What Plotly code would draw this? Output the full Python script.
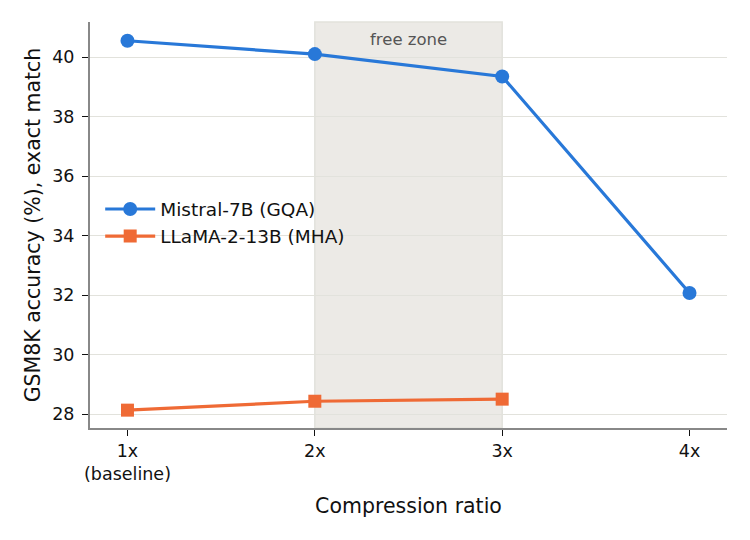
import plotly.graph_objects as go

x_vals = [1, 2, 3, 4]
x_ticklabels = ["1x<br>(baseline)", "2x", "3x", "4x"]
mistral_x = [1, 2, 3, 4]
mistral_y = [40.55, 40.1, 39.35, 32.07]
llama_x = [1, 2, 3]
llama_y = [28.13, 28.43, 28.5]
y_ticks = [28, 30, 32, 34, 36, 38, 40]
zone = [2, 3]

fig = go.Figure()
fig.add_vrect(x0=zone[0], x1=zone[1], fillcolor="#eceae6", opacity=1,
              line=dict(color="#e2e2dc", width=1.5), layer="below")
fig.add_annotation(x=(zone[0] + zone[1]) / 2, y=1, yref="paper", yshift=-6,
                   text="free zone", showarrow=False, yanchor="top",
                   font=dict(size=16.5, color="#555555"))

fig.add_trace(go.Scatter(x=mistral_x, y=mistral_y, mode="lines+markers",
                         name="Mistral-7B (GQA)",
                         line=dict(color="#2878d8", width=3.2),
                         marker=dict(symbol="circle", size=14, color="#2878d8")))
fig.add_trace(go.Scatter(x=llama_x, y=llama_y, mode="lines+markers",
                         name="LLaMA-2-13B (MHA)",
                         line=dict(color="#ef6a35", width=3.2),
                         marker=dict(symbol="square", size=13, color="#ef6a35")))

fig.update_layout(
    width=750, height=540,
    margin=dict(l=82, r=31, t=14, b=120),
    plot_bgcolor="white", paper_bgcolor="white",
    font=dict(family="DejaVu Sans", size=18, color="#111111"),
    legend=dict(x=0.016, y=0.505, xanchor="left", yanchor="middle",
                bgcolor="rgba(0,0,0,0)", font=dict(size=18.5),
                itemwidth=50, tracegroupgap=0),
    xaxis=dict(range=[0.8, 4.2], tickvals=x_vals, ticktext=x_ticklabels,
               showgrid=False, zeroline=False,
               showline=True, linecolor="#888888", linewidth=2,
               ticks="outside", ticklen=6, tickcolor="#111111",
               tickfont=dict(size=17.5),
               title=dict(text="Compression ratio", font=dict(size=20.5), standoff=16)),
    yaxis=dict(range=[27.53, 41.18], tickvals=y_ticks,
               showgrid=True, gridcolor="#e2e2dc", gridwidth=1, zeroline=False,
               showline=True, linecolor="#888888", linewidth=2,
               ticks="outside", ticklen=6, tickcolor="#111111",
               tickfont=dict(size=17.5), ticklabelstandoff=4,
               title=dict(text="GSM8K accuracy (%), exact match", font=dict(size=20.5), standoff=6)),
)

fig.write_html("out.html")
